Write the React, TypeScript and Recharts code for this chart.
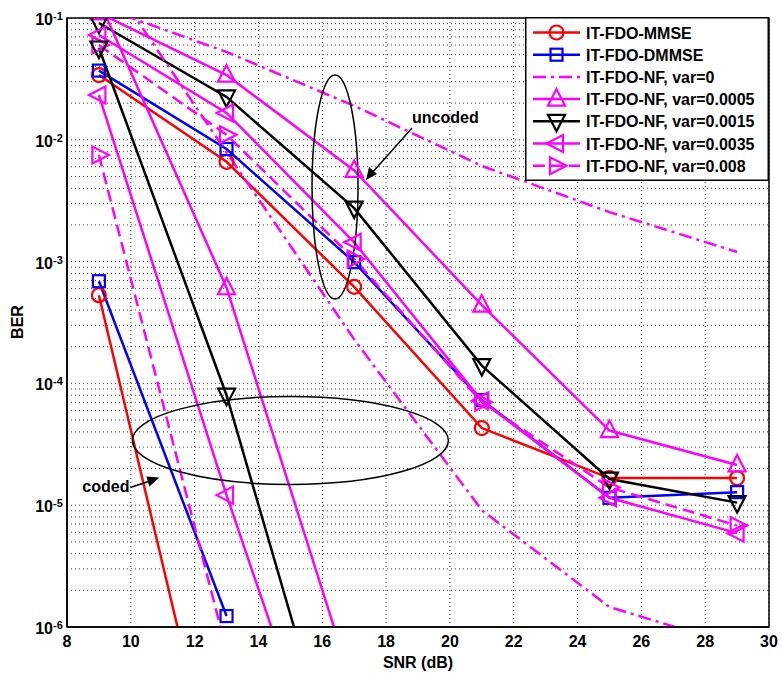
import React from "react";
import { LineChart, Line, XAxis, YAxis, CartesianGrid, Legend, ReferenceArea, ReferenceDot } from "recharts";

// SNR points (dB)
const snr = [9, 13, 17, 21, 25, 29];

// BER per scheme, uncoded and coded curves (null = not plotted)
const mmseUncoded = [0.034, 0.0066, 6.2e-4, 4.3e-5, 1.67e-5, 1.67e-5];
const mmseCoded = [5.3e-4, 2e-8, null, null, null, null];
const dmmseUncoded = [0.037, 0.0084, 9.9e-4, 7.3e-5, 1.15e-5, 1.28e-5];
const dmmseCoded = [6.9e-4, 1.23e-6, null, null, null, null];
const nf0Uncoded = [0.125, 0.0526, 0.019, 6.1e-3, 2.55e-3, 1.2e-3];
const nf0Coded = [0.28, 0.0079, 2.3e-4, 9.1e-6, 1.46e-6, 7e-7];
const nf0005Uncoded = [0.11, 0.034, 5.6e-3, 4.4e-4, 4.1e-5, 2.14e-5];
const nf0005Coded = [0.14, 6.1e-4, 3e-7, null, null, null];
const nf0015Uncoded = [0.091, 0.0225, 2.75e-3, 1.4e-4, 1.64e-5, 1.05e-5];
const nf0015Coded = [0.0567, 8.0e-5, 2e-8, null, null, null];
const nf0035Uncoded = [0.0725, 0.0166, 1.44e-3, 7.2e-5, 1.15e-5, 5.9e-6];
const nf0035Coded = [0.0233, 1.21e-5, 1e-8, null, null, null];
const nf008Uncoded = [0.06, 0.011, 1.05e-3, 7.0e-5, 1.4e-5, 6.8e-6];
const nf008Coded = [0.0075, 6.4e-7, null, null, null, null];

const xTicks = [8, 10, 12, 14, 16, 18, 20, 22, 24, 26, 28, 30];
const decades = [-6, -5, -4, -3, -2];
const yTicks = [...decades.flatMap((d) => [1, 2, 3, 4, 5, 6, 7, 8, 9].map((m) => m * Math.pow(10, d))), 0.1];

const FONT = "'Liberation Sans', Arial, sans-serif";

type Marker = "circle" | "square" | "up" | "down" | "left" | "right" | "none";

type Series = {
  name: string;
  color: string;
  marker: Marker;
  dash?: string;
  uncoded: (number | null)[];
  coded: (number | null)[];
};

const series: Series[] = [
  { name: "IT-FDO-MMSE", color: "#ff0000", marker: "circle", uncoded: mmseUncoded, coded: mmseCoded },
  { name: "IT-FDO-DMMSE", color: "#0000ff", marker: "square", uncoded: dmmseUncoded, coded: dmmseCoded },
  { name: "IT-FDO-NF, var=0", color: "#ff00ff", marker: "none", dash: "13 5 3 5", uncoded: nf0Uncoded, coded: nf0Coded },
  { name: "IT-FDO-NF, var=0.0005", color: "#ff00ff", marker: "up", uncoded: nf0005Uncoded, coded: nf0005Coded },
  { name: "IT-FDO-NF, var=0.0015", color: "#000000", marker: "down", uncoded: nf0015Uncoded, coded: nf0015Coded },
  { name: "IT-FDO-NF, var=0.0035", color: "#ff00ff", marker: "left", uncoded: nf0035Uncoded, coded: nf0035Coded },
  { name: "IT-FDO-NF, var=0.008", color: "#ff00ff", marker: "right", dash: "12 6", uncoded: nf008Uncoded, coded: nf008Coded },
];

const data = snr.map((x, i) => {
  const row: { [k: string]: number | null } = { snr: x };
  series.forEach((s, j) => {
    row[`u${j}`] = s.uncoded[i];
    row[`c${j}`] = s.coded[i];
  });
  return row;
});

function drawMarker(shape: Marker, cx: number, cy: number, color: string, key?: string) {
  const common = { fill: "none", stroke: color, strokeWidth: 2.2 };
  switch (shape) {
    case "circle":
      return <circle key={key} cx={cx} cy={cy} r={7} {...common} />;
    case "square":
      return <rect key={key} x={cx - 6} y={cy - 6} width={12} height={12} {...common} />;
    case "up":
      return <polygon key={key} points={`${cx},${cy - 10} ${cx - 8.5},${cy + 6.5} ${cx + 8.5},${cy + 6.5}`} {...common} />;
    case "down":
      return <polygon key={key} points={`${cx},${cy + 10} ${cx - 8.5},${cy - 6.5} ${cx + 8.5},${cy - 6.5}`} {...common} />;
    case "left":
      return <polygon key={key} points={`${cx - 10},${cy} ${cx + 6.5},${cy - 8.5} ${cx + 6.5},${cy + 8.5}`} {...common} />;
    case "right":
      return <polygon key={key} points={`${cx + 10},${cy} ${cx - 6.5},${cy - 8.5} ${cx - 6.5},${cy + 8.5}`} {...common} />;
    default:
      return <g key={key} />;
  }
}

const makeDot = (shape: Marker, color: string) => (props: any) => {
  const { cx, cy, index, value } = props;
  if (value == null || cx == null || cy == null || isNaN(cy)) return <g key={`d-${index}`} />;
  return drawMarker(shape, cx, cy, color, `d-${index}`);
};

const YTick = (props: any) => {
  const { x, y, payload } = props;
  const v = payload.value;
  const exp = Math.round(Math.log10(v));
  if (Math.abs(Math.log10(v) - exp) > 1e-6) return <g />;
  return (
    <g fontFamily={FONT} fontWeight="bold" fill="#000">
      <text x={x - 14} y={y + 7} textAnchor="end" fontSize={16}>10</text>
      <text x={x - 14} y={y + 2} fontSize={11}>{exp}</text>
    </g>
  );
};

const XTick = (props: any) => {
  const { x, y, payload } = props;
  return (
    <text x={x} y={y + 20} textAnchor="middle" fontSize={16} fontWeight="bold" fontFamily={FONT} fill="#000">
      {payload.value}
    </text>
  );
};

const LegendBox = () => (
  <svg width={244} height={164} style={{ display: "block" }}>
    <rect x={0.75} y={0.75} width={242.5} height={162.5} fill="#fff" stroke="#000" strokeWidth={1.5} />
    {series.map((s, i) => {
      const cy = 15.5 + i * 22.2;
      return (
        <g key={s.name}>
          <line x1={8} x2={55} y1={cy} y2={cy} stroke={s.color} strokeWidth={2.5} strokeDasharray={s.dash} />
          {drawMarker(s.marker, 31.5, cy, s.color)}
          <text x={61} y={cy + 6} fontSize={16} fontWeight="bold" fontFamily={FONT} fill="#000">
            {s.name}
          </text>
        </g>
      );
    })}
  </svg>
);

const UncodedNote = (props: any) => {
  const { cx, cy } = props;
  return (
    <g>
      <ellipse cx={cx} cy={cy} rx={23} ry={112} fill="none" stroke="#000" strokeWidth={1.5} />
      <line x1={cx + 77} y1={cy - 59} x2={cx + 36} y2={cy - 13} stroke="#000" strokeWidth={1.5} />
      <polygon points={`${cx + 31},${cy - 7} ${cx + 34},${cy - 20} ${cx + 42},${cy - 13}`} fill="#000" />
      <text x={cx + 77} y={cy - 64} fontSize={16} fontWeight="bold" fontFamily={FONT} fill="#000">uncoded</text>
    </g>
  );
};

const CodedNote = (props: any) => {
  const { cx, cy } = props;
  return (
    <g>
      <ellipse cx={cx} cy={cy} rx={158} ry={44} fill="none" stroke="#000" strokeWidth={1.5} />
      <line x1={cx - 160} y1={cy + 47} x2={cx - 139} y2={cy + 40} stroke="#000" strokeWidth={1.5} />
      <polygon points={`${cx - 131},${cy + 37} ${cx - 141},${cy + 46} ${cx - 144},${cy + 36}`} fill="#000" />
      <text x={cx - 208} y={cy + 52} fontSize={16} fontWeight="bold" fontFamily={FONT} fill="#000">coded</text>
    </g>
  );
};

export default function App() {
  return (
    <div style={{ position: "absolute", left: 0, top: 0, width: 782, height: 673, background: "#fff" }}>
      <LineChart width={782} height={673} data={data} margin={{ top: 18, right: 13, left: 10, bottom: 6 }}>
        <CartesianGrid stroke="#444" strokeDasharray="1 3" strokeWidth={1} />
        <XAxis
          dataKey="snr"
          type="number"
          domain={[8, 30]}
          ticks={xTicks}
          interval={0}
          height={40}
          tickSize={0}
          tickMargin={0}
          tick={<XTick />}
          axisLine={{ stroke: "#000", strokeWidth: 1.5 }}
          label={(p: any) => (
            <text x={418} y={668} textAnchor="middle" fontSize={16} fontWeight="bold" fontFamily={FONT} fill="#000">
              SNR (dB)
            </text>
          )}
        />
        <YAxis
          type="number"
          scale="log"
          domain={[1e-6, 0.1]}
          allowDataOverflow
          ticks={yTicks}
          interval={0}
          width={57}
          tickSize={0}
          tickMargin={0}
          tick={<YTick />}
          axisLine={{ stroke: "#000", strokeWidth: 1.5 }}
          label={(p: any) => (
            <text x={23} y={322} transform="rotate(-90, 23, 322)" textAnchor="middle" fontSize={16} fontWeight="bold" fontFamily={FONT} fill="#000">
              BER
            </text>
          )}
        />
        {series.map((s, j) => (
          <Line
            key={`u${j}`}
            dataKey={`u${j}`}
            stroke={s.color}
            strokeWidth={2.5}
            strokeDasharray={s.dash}
            dot={s.marker === "none" ? false : makeDot(s.marker, s.color)}
            activeDot={false}
            isAnimationActive={false}
            type="linear"
          />
        ))}
        {series.map((s, j) => (
          <Line
            key={`c${j}`}
            dataKey={`c${j}`}
            stroke={s.color}
            strokeWidth={2.5}
            strokeDasharray={s.dash}
            dot={s.marker === "none" ? false : makeDot(s.marker, s.color)}
            activeDot={false}
            isAnimationActive={false}
            type="linear"
          />
        ))}
        <ReferenceDot x={16.4} y={4.1e-3} r={0} shape={<UncodedNote />} />
        <ReferenceDot x={15.0} y={3.4e-5} r={0} shape={<CodedNote />} />
        <ReferenceArea x1={8} x2={30} y1={1e-6} y2={0.1} fill="none" stroke="#000" strokeWidth={1.5} />
        <Legend
          layout="vertical"
          align="center"
          verticalAlign="middle"
          content={<LegendBox />}
          wrapperStyle={{ position: "absolute", left: 525, top: 17, width: 244, height: 164 }}
        />
      </LineChart>
    </div>
  );
}
